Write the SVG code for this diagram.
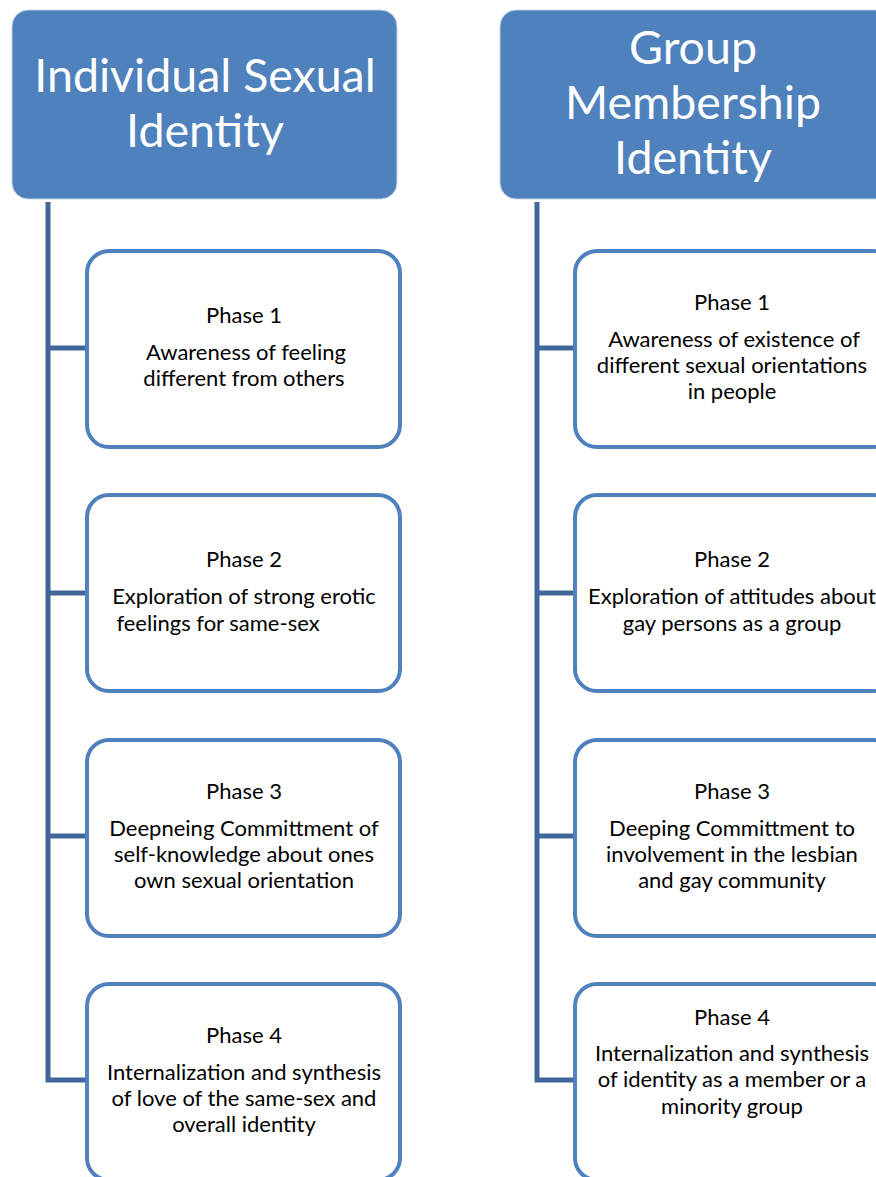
<svg xmlns="http://www.w3.org/2000/svg" width="876" height="1177" viewBox="0 0 876 1177">
<style>
.hdr{fill:#4f81bd;stroke:#c6d4e8;stroke-width:1}
.box{fill:#ffffff;stroke:#4f81bd;stroke-width:4}
.conn{stroke:#41679a;stroke-width:5;fill:none}
.ht{font-family:Lato,"Liberation Sans",sans-serif;font-size:46.5px;fill:#ffffff;text-anchor:middle}
.bt{font-family:Lato,"Liberation Sans",sans-serif;font-size:22px;fill:#000000;text-anchor:middle}
</style>
<rect width="876" height="1177" fill="#ffffff"/>
<g id="connectors">
<path class="conn" d="M48 202 V1080 H87 M48 348 H87 M48 593 H87 M48 836 H87"/>
<path class="conn" d="M537 202 V1080 H575 M537 348 H575 M537 593 H575 M537 836 H575"/>
</g>
<g id="header-left">
<rect class="hdr" x="12" y="10" width="385" height="189" rx="16"/>
<text class="ht" x="205" y="92">Individual Sexual</text>
<text class="ht" x="205" y="147">Identity</text>
</g>
<g id="header-right">
<rect class="hdr" x="500" y="10" width="400" height="189" rx="16"/>
<text class="ht" x="693" y="64">Group</text>
<text class="ht" x="693" y="119">Membership</text>
<text class="ht" x="693" y="174">Identity</text>
</g>
<g id="left-phase1">
<rect class="box" x="87" y="251" width="313" height="196" rx="22"/>
<text class="bt" x="244" y="323">Phase 1</text>
<text class="bt" x="246" y="360">Awareness of feeling</text>
<text class="bt" x="244" y="386">different from others</text>
</g>
<g id="left-phase2">
<rect class="box" x="87" y="495" width="313" height="196" rx="22"/>
<text class="bt" x="244" y="567">Phase 2</text>
<text class="bt" x="244" y="604">Exploration of strong erotic</text>
<text class="bt" x="218" y="631">feelings for same-sex</text>
</g>
<g id="left-phase3">
<rect class="box" x="87" y="740" width="313" height="196" rx="22"/>
<text class="bt" x="244" y="799">Phase 3</text>
<text class="bt" x="244" y="836">Deepneing Committment of</text>
<text class="bt" x="244" y="862">self-knowledge about ones</text>
<text class="bt" x="244" y="888">own sexual orientation</text>
</g>
<g id="left-phase4">
<rect class="box" x="87" y="984" width="313" height="196" rx="22"/>
<text class="bt" x="244" y="1043">Phase 4</text>
<text class="bt" x="244" y="1080">Internalization and synthesis</text>
<text class="bt" x="244" y="1106">of love of the same-sex and</text>
<text class="bt" x="244" y="1132">overall identity</text>
</g>
<g id="right-phase1">
<rect class="box" x="575" y="251" width="320" height="196" rx="22"/>
<text class="bt" x="732" y="310">Phase 1</text>
<text class="bt" x="734" y="347">Awareness of existence of</text>
<text class="bt" x="732" y="373">different sexual orientations</text>
<text class="bt" x="732" y="399">in people</text>
</g>
<g id="right-phase2">
<rect class="box" x="575" y="495" width="320" height="196" rx="22"/>
<text class="bt" x="732" y="567">Phase 2</text>
<text class="bt" x="732" y="604">Exploration of attitudes about</text>
<text class="bt" x="732" y="631">gay persons as a group</text>
</g>
<g id="right-phase3">
<rect class="box" x="575" y="740" width="320" height="196" rx="22"/>
<text class="bt" x="732" y="799">Phase 3</text>
<text class="bt" x="732" y="836">Deeping Committment to</text>
<text class="bt" x="732" y="862">involvement in the lesbian</text>
<text class="bt" x="732" y="888">and gay community</text>
</g>
<g id="right-phase4">
<rect class="box" x="575" y="984" width="320" height="196" rx="22"/>
<text class="bt" x="732" y="1025">Phase 4</text>
<text class="bt" x="732" y="1061">Internalization and synthesis</text>
<text class="bt" x="732" y="1087">of identity as a member or a</text>
<text class="bt" x="732" y="1114">minority group</text>
</g>
</svg>
